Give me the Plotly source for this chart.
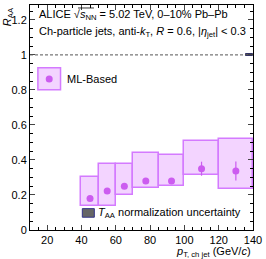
import plotly.graph_objects as go

# Data
bin_lo = [40, 50, 60, 70, 85, 100, 120]
bin_hi = [50, 60, 70, 85, 100, 120, 140]
raa = [0.180, 0.223, 0.250, 0.280, 0.280, 0.350, 0.337]
stat = [0.006, 0.006, 0.006, 0.008, 0.015, 0.040, 0.054]
sys_lo = [0.136, 0.136, 0.199, 0.240, 0.250, 0.313, 0.233]
sys_hi = [0.301, 0.375, 0.379, 0.439, 0.426, 0.506, 0.521]
taa_unc = 0.008

centers = [(a + b) / 2 for a, b in zip(bin_lo, bin_hi)]
widths = [b - a for a, b in zip(bin_lo, bin_hi)]

MARK = "#cc5cf0"
FILL = "#f3d4ff"
EDGE = "#d47aff"
FONT = "Liberation Sans, Arial, sans-serif"
FS = 11

fig = go.Figure()

fig.add_trace(go.Bar(
    x=centers, y=[h - l for h, l in zip(sys_hi, sys_lo)], base=sys_lo, width=widths,
    marker=dict(color=FILL, line=dict(color=EDGE, width=1.5)), showlegend=False,
))
fig.add_trace(go.Bar(
    x=[138], y=[2 * taa_unc], base=[1 - taa_unc], width=[4],
    marker=dict(color="#555555", line=dict(color="#333366", width=1)), showlegend=False,
))
fig.add_trace(go.Scatter(
    x=centers, y=raa, mode="markers",
    marker=dict(color=MARK, size=7),
    error_y=dict(type="data", array=stat, color=MARK, thickness=1.2, width=0),
    showlegend=False,
))
# legend marker
fig.add_trace(go.Scatter(x=[21.2], y=[0.862], mode="markers",
                         marker=dict(color=MARK, size=7), showlegend=False))

shapes = [
    dict(type="line", xref="x", yref="y", x0=10, x1=136, y0=1, y1=1,
         line=dict(color="#555555", width=1, dash="3px,2px")),
    # overline of the square root
    dict(type="line", xref="x", yref="y", x0=38.0, x1=47.3, y0=1.268, y1=1.268,
         line=dict(color="black", width=0.8)),
    # legend box for ML-Based
    dict(type="rect", xref="x", yref="y", x0=14.6, x1=27.8, y0=0.801, y1=0.926,
         fillcolor=FILL, line=dict(color=EDGE, width=1.5), layer="below"),
    # legend box for TAA
    dict(type="rect", xref="x", yref="y", x0=40.5, x1=47.5, y0=0.073, y1=0.122,
         fillcolor="#666666", line=dict(color="#333388", width=1)),
]

annotations = [
    dict(xref="x", yref="y", x=14.0, y=1.227, xanchor="left", yanchor="middle",
         text="ALICE √<i>s</i><sub>NN</sub> = 5.02 TeV, 0–10% Pb–Pb",
         showarrow=False, font=dict(size=FS, family=FONT)),
    dict(xref="x", yref="y", x=14.0, y=1.13, xanchor="left", yanchor="middle",
         text="Ch-particle jets, anti-<i>k</i><sub>T</sub>, <i>R</i> = 0.6, |<i>η</i><sub>jet</sub>| < 0.3",
         showarrow=False, font=dict(size=FS, family=FONT)),
    dict(xref="x", yref="y", x=30.5, y=0.862, xanchor="left", yanchor="middle",
         text="ML-Based", showarrow=False, font=dict(size=FS, family=FONT)),
    dict(xref="x", yref="y", x=48.5, y=0.097, xanchor="left", yanchor="middle",
         text="<i>T</i><sub>AA</sub> normalization uncertainty", showarrow=False,
         font=dict(size=FS, family=FONT)),
    dict(xref="paper", yref="paper", x=1.0, y=-0.058, xanchor="right", yanchor="top",
         text="<i>p</i><sub>T, ch jet</sub> (GeV/<i>c</i>)", showarrow=False,
         font=dict(size=FS, family=FONT)),
    dict(xref="paper", yref="paper", x=-0.1, y=1.0, xanchor="center", yanchor="top",
         text="<i>R</i><sub>AA</sub>", textangle=-90, showarrow=False,
         font=dict(size=FS, family=FONT)),
]

fig.update_layout(
    width=266, height=259,
    margin=dict(l=30, r=9, t=4, b=29),
    paper_bgcolor="white", plot_bgcolor="white",
    barmode="overlay", bargap=0,
    font=dict(family=FONT, size=FS, color="black"),
    shapes=shapes, annotations=annotations,
    xaxis=dict(range=[10, 140], tick0=0, dtick=20, ticks="inside", ticklen=5,
               showgrid=False, zeroline=False, showline=True, linecolor="black",
               linewidth=1, mirror="ticks", tickfont=dict(size=FS),
               ticklabeloverflow="allow", ticklabelstandoff=0,
               minor=dict(ticks="inside", dtick=5, ticklen=3, tickcolor="black")),
    yaxis=dict(range=[0, 1.285], tick0=0, dtick=0.2, ticks="inside", ticklen=5,
               showgrid=False, zeroline=False, showline=True, linecolor="black",
               linewidth=1, mirror="ticks", tickfont=dict(size=FS),
               minor=dict(ticks="inside", dtick=0.05, ticklen=3, tickcolor="black")),
)

fig.write_html("out.html", config={"displayModeBar": False},
               post_script="document.body.style.margin='0';document.body.style.overflow='hidden';")
